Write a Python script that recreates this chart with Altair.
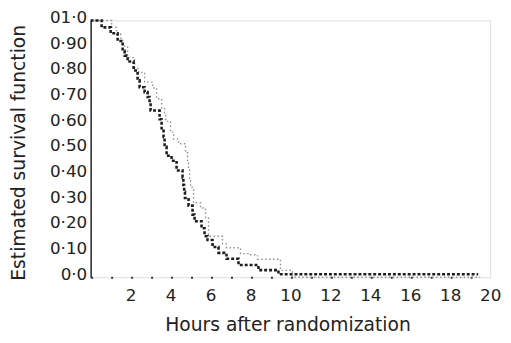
import altair as alt
import pandas as pd

# Kaplan-Meier estimates (hours, survival)
bold_t = [0, 0.55, 1.0, 1.35, 1.6, 1.7, 1.85, 2.15, 2.35, 2.45, 2.7, 2.85, 2.95, 3.0,
          3.45, 3.55, 3.65, 3.7, 3.8, 4.05, 4.3, 4.6, 4.64, 4.68, 4.72, 4.9, 5.1, 5.2,
          5.55, 5.7, 5.85, 6.1, 6.4, 6.8, 7.4, 8.4, 9.4, 19.4]
bold_s = [1.0, 0.973, 0.95, 0.92, 0.882, 0.863, 0.84, 0.805, 0.767, 0.74, 0.721, 0.702,
          0.679, 0.649, 0.615, 0.58, 0.546, 0.508, 0.473, 0.454, 0.416, 0.389, 0.359,
          0.332, 0.309, 0.279, 0.244, 0.218, 0.191, 0.16, 0.145, 0.118, 0.095, 0.072,
          0.048, 0.028, 0.012, 0.012]

light_t = [0, 1.05, 1.3, 1.5, 1.6, 1.85, 2.2, 2.4, 2.7, 3.1, 3.3, 3.55, 3.7, 3.75, 4.0,
           4.15, 4.4, 4.75, 4.85, 4.9, 4.95, 5.0, 5.15, 5.5, 5.75, 5.9, 6.6, 6.8, 7.5,
           8.0, 8.35, 9.5, 10.1, 19.5]
light_s = [1.0, 0.973, 0.947, 0.931, 0.9, 0.855, 0.813, 0.798, 0.76, 0.737, 0.695, 0.66,
           0.637, 0.607, 0.565, 0.538, 0.52, 0.485, 0.45, 0.42, 0.38, 0.35, 0.29, 0.27,
           0.233, 0.16, 0.13, 0.115, 0.092, 0.088, 0.07, 0.027, 0.0, 0.0]

x_ticks = [2, 4, 6, 8, 10, 12, 14, 16, 18, 20]
y_ticks = [0.0, 0.1, 0.2, 0.3, 0.4, 0.5, 0.6, 0.7, 0.8, 0.9, 1.0]
y_tick_labels = ["0·0", "0·10", "0·20", "0·30", "0·40", "0·50", "0·60", "0·70",
                 "0·80", "0·90", "01·0"]

bold_df = pd.DataFrame({"t": bold_t, "s": bold_s})
light_df = pd.DataFrame({"t": light_t, "s": light_s})

label_arr = "[" + ",".join("'" + l + "'" for l in y_tick_labels) + "]"
FONT = "DejaVu Sans"

x_enc = alt.X(
    "t:Q",
    scale=alt.Scale(domain=[0, 20], nice=False, zero=False),
    axis=alt.Axis(
        values=x_ticks, grid=False, ticks=False, labelOverlap=False,
        domainDash=[2, 18.3], domainColor="#333", domainWidth=2,
        labelFont=FONT, labelFontSize=17, labelColor="#222",
        labelBaseline="middle", labelPadding=19, labelFlush=False,
        title="Hours after randomization", titleFont=FONT, titleFontSize=19,
        titleFontWeight="normal", titleColor="#222",
        titleX=200, titleY=48, titleAlign="center", titleBaseline="middle",
    ),
)
y_enc = alt.Y(
    "s:Q",
    scale=alt.Scale(domain=[0, 1], nice=False),
    axis=alt.Axis(
        values=y_ticks, grid=False, ticks=False, labelOverlap=False,
        labelSeparation=0,
        domainColor="#333", domainWidth=1.6,
        labelExpr=label_arr + "[round(datum.value*10)]",
        labelFont=FONT, labelFontSize=17, labelColor="#222",
        labelPadding=4, labelOffset=-3,
        title="Estimated survival function", titleFont=FONT, titleFontSize=19,
        titleFontWeight="normal", titleColor="#222",
        titleX=-73, titleY=134, titleAlign="center", titleBaseline="middle",
    ),
)

light = alt.Chart(light_df).mark_line(
    interpolate="step-after", color="#8f8f8f", strokeWidth=1.4, strokeDash=[1.5, 2.5]
).encode(x=x_enc, y=y_enc)

bold = alt.Chart(bold_df).mark_line(
    interpolate="step-after", color="#1e1e1e", strokeWidth=2.6, strokeDash=[3, 2]
).encode(x=x_enc, y=y_enc)

chart = (light + bold).properties(
    width=406, height=261,
    autosize=alt.AutoSizeParams(type="none"),
    padding={"left": 84, "top": 10, "right": 13, "bottom": 56},
).configure_view(stroke=None).configure_axis(labelOverlap=False).configure(background="white")

chart.save("out.html", embed_options={"renderer": "svg", "actions": False})
